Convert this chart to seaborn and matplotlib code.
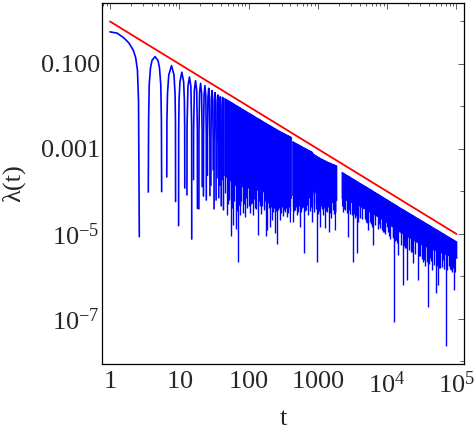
import numpy as np
import pandas as pd
import matplotlib
matplotlib.use("Agg")
import matplotlib.pyplot as plt
import seaborn as sns
from matplotlib.path import Path
from matplotlib.ticker import FixedLocator, NullFormatter

# ---------------- values ----------------
# red reference line
bound_t = [1.0, 1.0e5]
bound_lam = [1.0, 1.0e-5]

# individually resolved lobes of lambda(t)
lobe1_t = [1.0, 1.27, 1.59, 1.88, 2.17, 2.35, 2.49, 2.58, 2.65]
lobe1_lam = [0.57, 0.53, 0.41, 0.31, 0.21, 0.14, 0.072, 0.014, 8.6e-6]
lobe2_t = [3.57, 3.61, 3.68, 3.84, 4.04, 4.46, 4.93, 5.18, 5.41, 5.52, 5.57]
lobe2_lam = [9.7e-5, 4.8e-3, 0.032, 0.081, 0.121, 0.149, 0.121, 0.081, 0.032, 4.8e-3, 9.9e-5]
lobe3_t = [6.60, 6.634, 6.757, 7.048, 7.72, 8.392, 8.683, 8.806, 8.84]
lobe3_lam = [2.2e-4, 4.6e-3, 0.020, 0.055, 0.091, 0.055, 0.020, 4.6e-3, 5.8e-5]
lobe4_t = [9.77, 9.803, 9.926, 10.216, 10.885, 11.554, 11.844, 11.967, 12.0]
lobe4_lam = [1.57e-5, 3.2e-3, 0.014, 0.038, 0.0638, 0.038, 0.014, 3.2e-3, 1.21e-4]
lobe5_t = [12.9, 12.945, 13.346, 14.015, 14.684, 15.085, 15.13]
lobe5_lam = [8.3e-5, 3.5e-3, 0.030, 0.0494, 0.030, 3.5e-3, 7.6e-6]
lobe6_t = [16.04, 16.085, 16.486, 17.155, 17.824, 18.225, 18.27]
lobe6_lam = [1.9e-4, 2.8e-3, 0.024, 0.0405, 0.024, 2.8e-3, 4.0e-5]
lobe7_t = [19.18, 19.225, 19.626, 20.295, 20.964, 21.365, 21.41]
lobe7_lam = [3.9e-5, 2.5e-3, 0.021, 0.0351, 0.021, 2.5e-3, 1.3e-4]
lobe8_t = [22.32, 22.365, 22.766, 23.435, 24.104, 24.505, 24.55]
lobe8_lam = [7.8e-5, 2.2e-3, 0.0185, 0.0309, 0.0185, 2.2e-3, 6.3e-5]
lobe9_t = [25.46, 25.505, 25.906, 26.575, 27.244, 27.645, 27.69]
lobe9_lam = [2.4e-4, 1.9e-3, 0.016, 0.0268, 0.016, 1.9e-3, 8.0e-5]
lobe10_t = [28.6, 28.645, 29.046, 29.715, 30.384, 30.785, 30.83]
lobe10_lam = [1.4e-4, 1.6e-3, 0.014, 0.0235, 0.014, 1.6e-3, 3.2e-4]
lobe11_t = [31.74, 31.785, 32.186, 32.855, 33.524, 33.925, 33.97]
lobe11_lam = [3.9e-5, 1.5e-3, 0.0127, 0.0211, 0.0127, 1.5e-3, 6.3e-5]
lobe12_t = [34.88, 34.925, 35.326, 35.995, 36.664, 37.065, 37.11]
lobe12_lam = [2.1e-4, 1.3e-3, 0.0112, 0.0187, 0.0112, 1.3e-3, 7.1e-5]
lobe13_t = [38.02, 38.065, 38.466, 39.135, 39.804, 40.205, 40.25]
lobe13_lam = [1.4e-4, 1.2e-3, 0.0102, 0.0170, 0.0102, 1.2e-3, 4.6e-5]
lobe14_t = [41.16, 41.205, 41.606, 42.275, 42.944, 43.345, 43.39]
lobe14_lam = [1.9e-4, 1.1e-3, 9.8e-3, 0.0163, 9.8e-3, 1.1e-3, 3.7e-5]

# densely oscillating part: upper envelope and solid lower edge, three blocks
bandA_t = [44.3, 64.0, 105.0, 173.0, 284.0, 412.0]
bandA_top = [0.0160, 0.01114, 6.84e-3, 4.20e-3, 2.61e-3, 1.92e-3]
bandA_bot = [2.44e-4, 1.42e-4, 1.21e-4, 9.73e-5, 8.27e-5, 7.03e-5]
bandB_t = [425.7, 589.6, 822.0, 844.0, 1072.0, 1399.0, 1855.0]
bandB_top = [1.54e-3, 1.145e-3, 8.64e-4, 7.83e-4, 6.14e-4, 4.94e-4, 4.09e-4]
bandB_bot = [8.27e-5, 7.42e-5, 7.03e-5, 1.08e-4, 7.83e-5, 5.08e-5, 6.31e-5]
bandD_t = [2190.0, 4050.0, 5647.0, 7875.0, 15300.0, 29740.0, 51800.0, 100000.0]
bandD_top = [2.92e-4, 1.585e-4, 1.145e-4, 8.18e-5, 4.20e-5, 2.19e-5, 1.276e-5, 6.66e-6]
bandD_bot = [7.03e-5, 4.56e-5, 3.29e-5, 2.38e-5, 1.11e-5, 5.82e-6, 3.98e-6, 2.72e-6]

# long downward spikes below the dense band (t, lowest value)
spike_t = [48.3, 51.3, 55.2, 60.2, 65.2, 69.2, 72.7, 76.4, 82.2, 88.8, 95.8, 104.8,
           110.1, 116.9, 125.8, 135.3, 143.7, 151.0, 166.8, 176.5, 186.1, 197.0, 203.6,
           215.5, 228.7, 240.4, 256.1, 270.1, 283.9, 303.4, 313.6, 335.2, 354.6, 376.5,
           395.8, 441.6, 467.3, 494.5, 524.9, 551.6, 589.6, 634.4, 673.4, 726.8, 787.1,
           830.3, 893.2, 960.9, 1020, 1072, 1134, 1185, 1266, 1353, 1460, 1571, 1680,
           1766, 2302, 2461, 2746, 2954, 3178, 3375, 3630, 3854, 4050, 4520, 4944, 5339,
           5838, 6301, 7054, 7614, 8328, 8990, 9835, 10620, 11610, 11930, 12530, 13620,
           14460, 16740, 18070, 19500, 21690, 23800, 27550, 29740, 33190, 35700, 38410,
           41470, 44750, 50110, 54630, 58760, 63220, 70560, 76680, 82490, 87560, 92970,
           99000]
spike_lam = [2.80e-5, 6.31e-5, 8.73e-6, 1.63e-5, 1.29e-5, 2.23e-6, 4.81e-5, 2.80e-5,
             3.07e-5, 2.55e-5, 4.09e-5, 3.07e-5, 5.08e-5, 2.80e-5, 4.09e-5, 9.22e-6,
             4.56e-5, 2.96e-5, 3.67e-5, 8.73e-6, 1.24e-5, 4.09e-5, 1.48e-5, 2.13e-5,
             3.29e-5, 1.04e-5, 5.82e-6, 3.67e-5, 2.13e-5, 4.32e-5, 2.65e-5, 3.29e-5,
             2.55e-5, 3.67e-5, 1.95e-5, 1.95e-5, 3.67e-5, 2.80e-5, 3.29e-5, 1.48e-5,
             4.09e-5, 3.51e-6, 3.67e-5, 2.80e-5, 4.32e-5, 1.95e-5, 3.29e-5, 2.23e-6,
             2.96e-5, 1.48e-5, 4.39e-5, 2.80e-5, 1.38e-5, 3.29e-5, 1.13e-5, 2.38e-5,
             2.96e-5, 1.24e-5, 3.29e-5, 3.67e-5, 8.64e-6, 2.96e-5, 2.23e-6, 2.38e-5,
             3.51e-6, 1.92e-5, 2.34e-5, 4.02e-5, 1.92e-5, 1.24e-5, 1.72e-5, 5.51e-6,
             4.02e-5, 1.72e-5, 1.24e-5, 1.11e-5, 1.48e-5, 8.97e-6, 2.80e-5, 8.97e-6,
             8.64e-8, 7.22e-6, 3.21e-6, 6.31e-7, 4.68e-6, 8.27e-7, 3.77e-6, 2.04e-6,
             8.27e-7, 3.04e-6, 2.23e-6, 1.77e-6, 1.95e-7, 2.72e-6, 1.42e-6, 4.02e-7,
             6.31e-7, 1.58e-6, 2.44e-6, 2.32e-8, 1.77e-6, 1.42e-6, 2.72e-6, 4.81e-7,
             4.20e-6]

# short spikes forming the ragged lower edge of the band
rag_t = [46, 50, 53, 57.5, 62.5, 67, 71, 74.5, 79, 85.5, 92, 100, 107.5, 113.5, 121,
         130, 139.5, 147, 158, 171, 181, 191.5, 209, 222, 234, 248, 263, 276.5, 293,
         308.5, 324.5, 345, 365.5, 386, 404,
         433, 454, 480.5, 509, 538, 570, 611, 653, 700, 757, 810, 866, 927, 990, 1046,
         1103, 1160, 1225, 1310, 1405, 1515, 1625, 1720, 1810,
         2240, 2380, 2600, 2850, 3070, 3280, 3500, 3740, 4280, 4750, 5150, 5580, 6070,
         6650, 7330, 7950, 8650, 9400, 10200, 11100, 12200, 13100, 14000, 15700, 17400,
         18800, 20600, 22700, 25500, 28600, 31500, 34400, 37000, 40000, 43000, 47300,
         52300, 56700, 61000, 66800, 73500, 79500, 85000, 90000, 96000]
rag_lam = [9e-5, 5e-5, 7e-5, 4e-5, 6e-5, 3.5e-5, 8e-5, 4.5e-5, 6e-5, 5e-5, 7e-5, 4.5e-5,
           7e-5, 5.5e-5, 6.5e-5, 3.8e-5, 6e-5, 5e-5, 4.5e-5, 6e-5, 4e-5, 5.5e-5, 4.2e-5,
           5e-5, 4e-5, 3.5e-5, 4.5e-5, 4e-5, 3.2e-5, 4.5e-5, 3.6e-5, 4e-5, 3.2e-5,
           4.2e-5, 3.5e-5,
           4.5e-5, 3.5e-5, 4.2e-5, 3.8e-5, 4.5e-5, 3.3e-5, 4.2e-5, 3.5e-5, 4.8e-5,
           3.5e-5, 4e-5, 5e-5, 3.8e-5, 4.2e-5, 3.5e-5, 4.5e-5, 3.8e-5, 4e-5, 3.5e-5,
           4.2e-5, 3.2e-5, 3.6e-5, 4e-5, 3.3e-5,
           4.5e-5, 3.8e-5, 3.2e-5, 3.6e-5, 2.8e-5, 3.0e-5, 2.6e-5, 2.5e-5, 2.2e-5,
           2.3e-5, 1.8e-5, 1.9e-5, 1.5e-5, 1.6e-5, 1.3e-5, 1.4e-5, 1.1e-5, 1.0e-5,
           1.1e-5, 7.5e-6, 8e-6, 6.8e-6, 6e-6, 5.5e-6, 5.2e-6, 4.6e-6, 4.2e-6, 3.8e-6,
           3.3e-6, 3.0e-6, 2.6e-6, 2.5e-6, 2.2e-6, 2.0e-6, 2.3e-6, 1.9e-6, 1.8e-6,
           1.6e-6, 1.7e-6, 1.5e-6, 1.4e-6, 1.5e-6, 1.3e-6, 1.6e-6, 1.3e-6]

# axis ticks
x_ticks = [1, 10, 100, 1000, 1e4, 1e5]
x_ticklabels = [r"$\mathregular{1}$", r"$\mathregular{10}$", r"$\mathregular{100}$",
                r"$\mathregular{1000}$", r"$\mathregular{10^{4}}$", r"$\mathregular{10^{5}}$"]
y_ticks = [1e-7, 1e-5, 1e-3, 1e-1]
y_ticklabels = [r"$\mathregular{10^{-7}}$", r"$\mathregular{10^{-5}}$", "0.001", "0.100"]
y_minor_ticks = [1e-8, 1e-6, 1e-4, 1e-2, 1.0]

# ---------------- styling ----------------
sns.set_style("white")
plt.rcParams["font.family"] = ["Liberation Serif", "DejaVu Serif"]
plt.rcParams["mathtext.fontset"] = "custom"
plt.rcParams["mathtext.rm"] = "Liberation Serif"
plt.rcParams["mathtext.it"] = "Liberation Serif:italic"

BLUE = "#0000ff"
RED = "#ff0000"

fig = plt.figure(figsize=(4.77, 4.36), dpi=100)
ax = fig.add_axes([102 / 477, 1 - 364 / 436, 362 / 477, 361 / 436])
ax.set_xscale("log")
ax.set_yscale("log")

# lobes
lobes = [(lobe1_t, lobe1_lam), (lobe2_t, lobe2_lam), (lobe3_t, lobe3_lam),
         (lobe4_t, lobe4_lam), (lobe5_t, lobe5_lam), (lobe6_t, lobe6_lam),
         (lobe7_t, lobe7_lam), (lobe8_t, lobe8_lam), (lobe9_t, lobe9_lam),
         (lobe10_t, lobe10_lam), (lobe11_t, lobe11_lam), (lobe12_t, lobe12_lam),
         (lobe13_t, lobe13_lam), (lobe14_t, lobe14_lam)]
df = pd.concat([pd.DataFrame({"t": tt, "lam": ll, "lobe": k})
                for k, (tt, ll) in enumerate(lobes)], ignore_index=True)
sns.lineplot(data=df, x="t", y="lam", units="lobe", estimator=None, sort=False,
             color=BLUE, lw=1.2, ax=ax, legend=False)

# dense band + spikes
st = np.array(spike_t + rag_t, dtype=float)
sl = np.array(spike_lam + rag_lam, dtype=float)
for bt, btop, bbot in [(bandA_t, bandA_top, bandA_bot),
                       (bandB_t, bandB_top, bandB_bot),
                       (bandD_t, bandD_top, bandD_bot)]:
    ax.fill_between(bt, bbot, btop, color=BLUE, lw=0.5, ec=BLUE, zorder=2)
    verts = list(zip(bt, btop)) + [(bt[-1], 1e-12), (bt[0], 1e-12), (bt[0], btop[0])]
    clip = Path(verts, closed=True)
    m = (st > bt[0]) & (st < bt[-1])
    vl = ax.vlines(st[m], sl[m], 1.0, colors=BLUE, lw=1.0, zorder=2)
    vl.set_clip_path(clip, ax.transData)

# red bound
sns.lineplot(x=bound_t, y=bound_lam, color=RED, lw=1.3, ax=ax, zorder=4)

ax.set_xlim(0.767, 1.283e5)
ax.set_ylim(8.73e-9, 2.72)

ax.xaxis.set_major_locator(FixedLocator(x_ticks))
ax.set_xticklabels(x_ticklabels)
ax.xaxis.set_minor_locator(FixedLocator(
    [m * 10 ** e for e in range(-1, 6) for m in range(2, 10)]))
ax.xaxis.set_minor_formatter(NullFormatter())
ax.yaxis.set_major_locator(FixedLocator(y_ticks))
ax.set_yticklabels(y_ticklabels)
ax.yaxis.set_minor_locator(FixedLocator(y_minor_ticks))
ax.yaxis.set_minor_formatter(NullFormatter())

ax.tick_params(which="both", direction="in", top=True, right=True,
               color="#444444", width=0.6, labelsize=19)
ax.tick_params(axis="x", which="major", length=4, pad=5)
ax.tick_params(axis="x", which="minor", length=2.2)
ax.tick_params(axis="y", which="major", length=4, pad=1.5)
ax.tick_params(axis="y", which="minor", length=3)

for s in ax.spines.values():
    s.set_color("black")
    s.set_linewidth(0.9)

ax.set_xlabel("t", fontsize=19)
ax.set_ylabel("λ(t)", fontsize=19)
ax.xaxis.label.set_va("center")
ax.xaxis.set_label_coords(0.5, -0.152)
ax.yaxis.label.set_va("center")
ax.yaxis.set_label_coords(-0.243, 0.5)

fig.savefig("out.png", dpi=100)
